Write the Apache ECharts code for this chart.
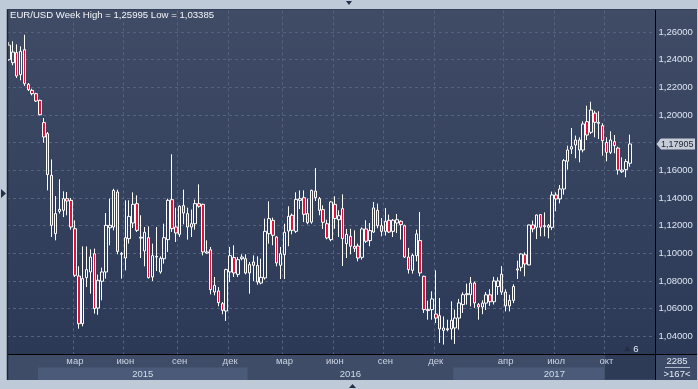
<!DOCTYPE html>
<html><head><meta charset="utf-8">
<script src="https://cdn.jsdelivr.net/npm/echarts@6/dist/echarts.min.js"></script>
<style>html,body{margin:0;padding:0;background:#bfcad8;overflow:hidden}#c{width:698px;height:389px}</style>
</head><body><div id="c"></div>
<script>
// ---- data ----
const startWeek = '2014-10-27';
const futureWeeks = 6;
const openVals = [
1.2400,1.2378,1.2451,1.2292,1.2472,1.2222,1.2178,1.2154,1.2106,1.1945,
1.1865,1.1564,1.1142,1.1303,1.1311,1.1395,1.1383,1.1178,1.0836,1.0491,
1.0824,1.0865,1.0997,1.0604,1.0798,1.0865,1.1185,1.1190,1.1443,1.0993,
1.0966,1.1106,1.1219,1.1359,1.1110,1.1017,1.1113,1.0829,1.0973,1.0865,
1.0961,1.1099,1.1388,1.1190,1.1137,1.1345,1.1287,1.1190,1.1214,1.1359,
1.1354,1.1002,1.1026,1.0720,1.0728,1.0636,1.0583,1.0865,1.0969,1.0848,
1.0961,1.0961,1.0858,1.0937,1.0913,1.0785,1.0822,1.1142,1.1238,1.1118,
1.0913,1.0990,1.1161,1.1275,1.1159,1.1383,1.1402,1.1287,1.1226,1.1450,
1.1395,1.1316,1.1214,1.1099,1.1354,1.1243,1.1323,1.1070,1.1123,1.1051,
1.1053,1.0971,1.1176,1.1092,1.1154,1.1311,1.1200,1.1159,1.1239,1.1159,
1.1219,1.1231,1.1200,1.0973,1.0877,1.0983,1.1092,1.0834,1.0593,1.0593,
1.0561,1.0549,1.0443,1.0448,1.0453,1.0460,1.0532,1.0629,1.0701,1.0701,
1.0785,1.0629,1.0612,1.0640,1.0700,1.0650,1.0760,1.0849,1.0720,1.0620,
1.0660,1.0879,1.0899,1.0990,1.0916,1.1205,1.1188,1.1280,1.1193,1.1188,
1.1188,1.1422,1.1393,1.1465,1.1665,1.1754,1.1783,1.1819,1.1747,1.1952,
1.1875,1.2014,1.1940,1.1923,1.1802,1.1730,1.1807,1.1761,1.1590,1.1605,
1.1651];
const closeVals = [
1.2505,1.2455,1.2282,1.2460,1.2226,1.2183,1.2154,1.2101,1.2002,1.1841,
1.1569,1.1202,1.1287,1.1318,1.1395,1.1378,1.1190,1.0841,1.0491,1.0817,
1.0882,1.0973,1.0600,1.0805,1.0865,1.1202,1.1202,1.1455,1.1014,1.0999,
1.1113,1.1267,1.1354,1.1166,1.1116,1.1152,1.0824,1.0983,1.0978,1.0964,
1.1113,1.1383,1.1178,1.1147,1.1340,1.1291,1.1190,1.1214,1.1359,1.1340,
1.1010,1.1010,1.0737,1.0768,1.0643,1.0588,1.0882,1.0983,1.0858,1.0954,
1.0973,1.0858,1.0918,1.0913,1.0793,1.0826,1.1159,1.1251,1.1130,1.0930,
1.0997,1.1152,1.1267,1.1166,1.1390,1.1395,1.1282,1.1222,1.1455,1.1402,
1.1311,1.1224,1.1111,1.1371,1.1251,1.1272,1.1106,1.1137,1.1051,1.1036,
1.0966,1.1176,1.1087,1.1164,1.1328,1.1200,1.1159,1.1231,1.1154,1.1239,
1.1243,1.1207,1.0973,1.0882,1.0985,1.1140,1.0858,1.0593,1.0586,1.0670,
1.0532,1.0453,1.0460,1.0455,1.0516,1.0532,1.0641,1.0701,1.0708,1.0785,
1.0641,1.0612,1.0640,1.0700,1.0650,1.0800,1.0800,1.0720,1.0620,1.0660,
1.0760,1.0887,1.0995,1.0923,1.1205,1.1176,1.1277,1.1188,1.1200,1.1200,
1.1422,1.1393,1.1465,1.1670,1.1747,1.1771,1.1819,1.1747,1.1935,1.1855,
1.2036,1.1947,1.1947,1.1814,1.1730,1.1819,1.1778,1.1602,1.1602,1.1663,
1.17905];
const lowVals = [
1.2390,1.2359,1.2267,1.2251,1.2210,1.2173,1.2142,1.2094,1.1998,1.1800,
1.1455,1.1118,1.1094,1.1287,1.1262,1.1275,1.1171,1.0829,1.0455,1.0472,
1.0756,1.0708,1.0564,1.0555,1.0660,1.0817,1.1058,1.1166,1.0993,1.0817,
1.0877,1.1070,1.1183,1.1154,1.0966,1.0906,1.0817,1.0800,1.0872,1.0853,
1.0925,1.1010,1.1154,1.1082,1.1118,1.1210,1.1099,1.1118,1.1171,1.1330,
1.0985,1.0997,1.0703,1.0696,1.0617,1.0559,1.0511,1.0793,1.0829,1.0829,
1.0949,1.0848,1.0708,1.0800,1.0773,1.0776,1.0810,1.1070,1.1058,1.0906,
1.0814,1.0814,1.1051,1.1137,1.1147,1.1320,1.1226,1.1210,1.1214,1.1378,
1.1275,1.1176,1.1101,1.1087,1.1178,1.1118,1.0908,1.0966,1.0993,1.1010,
1.0942,1.0954,1.1075,1.1051,1.1147,1.1181,1.1123,1.1128,1.1147,1.1118,
1.1147,1.1099,1.0966,1.0853,1.0853,1.0942,1.0834,1.0569,1.0520,1.0520,
1.0496,1.0352,1.0340,1.0436,1.0376,1.0345,1.0448,1.0569,1.0629,1.0617,
1.0605,1.0520,1.0560,1.0590,1.0620,1.0630,1.0700,1.0700,1.0580,1.0580,
1.0640,1.0814,1.0870,1.0834,1.0914,1.1152,1.1103,1.1123,1.1123,1.1108,
1.1169,1.1304,1.1361,1.1424,1.1605,1.1718,1.1687,1.1658,1.1730,1.1819,
1.1863,1.1839,1.1826,1.1706,1.1665,1.1718,1.1723,1.1569,1.1581,1.1549,
1.1626];
const highVals = [
1.2528,1.2533,1.2511,1.2496,1.2580,1.2231,1.2190,1.2161,1.2111,1.1978,
1.1877,1.1679,1.1414,1.1535,1.1448,1.1443,1.1400,1.1238,1.0906,1.1050,
1.1050,1.1029,1.1034,1.0846,1.0896,1.1291,1.1395,1.1467,1.1460,1.1010,
1.1383,1.1383,1.1441,1.1419,1.1275,1.1190,1.1195,1.1070,1.1190,1.0978,
1.1214,1.1395,1.1716,1.1330,1.1347,1.1460,1.1330,1.1316,1.1388,1.1499,
1.1359,1.1094,1.1046,1.0829,1.0756,1.0648,1.0889,1.1046,1.1058,1.0973,
1.0993,1.0993,1.0937,1.0985,1.0978,1.0961,1.1251,1.1376,1.1258,1.1123,
1.1046,1.1214,1.1340,1.1287,1.1441,1.1455,1.1455,1.1395,1.1460,1.1617,
1.1407,1.1347,1.1243,1.1378,1.1412,1.1311,1.1426,1.1176,1.1178,1.1166,
1.1070,1.1188,1.1239,1.1219,1.1371,1.1359,1.1255,1.1328,1.1280,1.1248,
1.1284,1.1239,1.1207,1.1039,1.0998,1.1171,1.1299,1.0838,1.0658,1.0725,
1.0877,1.0677,1.0544,1.0520,1.0653,1.0593,1.0670,1.0718,1.0781,1.0829,
1.0797,1.0641,1.0660,1.0720,1.0740,1.0830,1.0826,1.0907,1.0740,1.0700,
1.0776,1.0947,1.1000,1.1007,1.1207,1.1236,1.1280,1.1282,1.1296,1.1212,
1.1446,1.1441,1.1494,1.1682,1.1778,1.1906,1.1851,1.1839,1.1954,1.2067,
1.2096,1.2031,1.2027,1.1940,1.1839,1.1882,1.1855,1.1771,1.1694,1.1682,
1.1858];
const monthTicks = [
['2015-02-23','мар'],['2015-05-25','июн'],['2015-08-31','сен'],['2015-11-30','дек'],
['2016-03-07','мар'],['2016-06-06','июн'],['2016-09-05','сен'],['2016-12-05','дек'],
['2017-04-10','апр'],['2017-07-10','июл'],['2017-10-09','окт']];
const yearStarts = ['2014-12-22','2016-01-04','2017-01-09'];
const yearLabels = ['2015','2016','2017'];
const yearShaded = [true,false,true];
const selectionStart = '2017-10-09';
const lastPrice = 1.17905;
const titleText = 'EUR/USD Week High = 1,25995 Low = 1,03385';
const barsTotal = '2285';
const barsShown = '>167<';
const rightOffset = '6';

// ---- build ----
const weeks = [];
let t = Date.parse(startWeek + 'T00:00:00Z');
for (let i = 0; i < openVals.length + futureWeeks; i++) { weeks.push(new Date(t).toISOString().slice(0,10)); t += 7*864e5; }
const candleData = openVals.map((o,i)=>[o, closeVals[i], lowVals[i], highVals[i]]);
const monthMap = {}; monthTicks.forEach(m => monthMap[m[0]] = m[1]);
const FONT = '"Liberation Sans", Arial, sans-serif';
const FS = 9.5;
const GRID = '#56627d';

const chart = echarts.init(document.getElementById('c'));
chart.setOption({
  animation: false,
  backgroundColor: '#bfcad8',
  textStyle: {fontFamily: FONT},
  title: {text: titleText, left: 10, top: 10, padding: 0, textStyle: {color: '#f3f6fb', fontSize: 9.6, fontWeight: 'normal', fontFamily: FONT}},
  grid: {left: 7, right: 43, top: 4.34, bottom: 25.04},
  xAxis: [
    {type: 'category', data: weeks, boundaryGap: true, axisLine: {show: false}, axisTick: {show: false}, axisLabel: {show: false},
     splitLine: {show: true, interval: (i, v) => monthMap[v] !== undefined, lineStyle: {color: GRID, type: [3,3], width: 1}}},
    {type: 'category', data: weeks, boundaryGap: true, position: 'bottom', z: 20, axisLine: {show: false}, axisTick: {show: false}, splitLine: {show: false},
     axisLabel: {interval: (i, v) => monthMap[v] !== undefined, formatter: v => monthMap[v] || '', margin: -7.5, color: '#c9d3e2', fontSize: FS, fontFamily: FONT}}
  ],
  yAxis: {type: 'value', position: 'right', min: 1.02, max: 1.28, interval: 0.02,
    axisLine: {show: false}, axisTick: {show: false},
    axisLabel: {showMinLabel: false, showMaxLabel: false, margin: 3.5, color: '#dce5f2', fontSize: FS, fontFamily: FONT, formatter: v => v.toFixed(5).replace('.', ',')},
    splitLine: {show: true, showMinLine: false, showMaxLine: false, lineStyle: {color: GRID, type: [3,3]}}},
  series: [{type: 'candlestick', xAxisIndex: 0, data: candleData, barWidth: 3,
    itemStyle: {color: 'rgba(0,0,0,0)', color0: '#e4103c', borderColor: '#ffffff', borderColor0: '#ffffff', borderWidth: 1}}]
});

// ---- decorations positioned through the axes ----
const px = i => chart.convertToPixel({xAxisIndex: 0}, i);
const bw = px(1) - px(0);
const xL = 7, xR = 655.5, yT = 9, yB = 354.5, yEnd = 380, W = 697;
const g = [];
const bg = new echarts.graphic.LinearGradient(0,0,0,1,[{offset:0,color:'#404c66'},{offset:1,color:'#2b3957'}]);
g.push({type:'rect', z:-10, silent:true, shape:{x:xL, y:yT, width:W-xL, height:yB-yT}, style:{fill:bg}});
g.push({type:'rect', z:10, silent:true, shape:{x:xL, y:yB, width:W-xL, height:yEnd-yB}, style:{fill:'#3e4c68'}});
const yearIdx = yearStarts.map(d => weeks.indexOf(d));
yearIdx.forEach((si, k) => {
  const x0 = px(si) - bw/2;
  const x1 = k + 1 < yearIdx.length ? px(yearIdx[k+1]) - bw/2 : xR;
  if (yearShaded[k]) g.push({type:'rect', z:11, silent:true, shape:{x:x0, y:367.5, width:x1 - x0, height:yEnd-367.5}, style:{fill:'#4a5a78'}});
  g.push({type:'text', z:25, silent:true, style:{text:yearLabels[k], x:(x0 + x1)/2, y:374, align:'center', verticalAlign:'middle', fill:'#d3dce8', font:FS + 'px ' + FONT}});
});
const selX = px(weeks.indexOf(selectionStart)) - bw/2;
g.push({type:'rect', z:12, silent:true, shape:{x:selX, y:yB, width:xR-selX, height:yEnd-yB}, style:{fill:'#2e3b56', stroke:'#46536d', lineWidth:1}});
g.push({type:'rect', z:12, silent:true, shape:{x:xR, y:yB, width:W-xR, height:yEnd-yB}, style:{fill:'#3c4a67'}});
// frame / borders
g.push({type:'rect', z:30, silent:true, shape:{x:0, y:0, width:698, height:yT}, style:{fill:'#bfcad8'}});
g.push({type:'rect', z:30, silent:true, shape:{x:0, y:yEnd, width:698, height:389-yEnd}, style:{fill:'#bfcad8'}});
g.push({type:'rect', z:30, silent:true, shape:{x:0, y:0, width:xL, height:389}, style:{fill:'#bfcad8'}});
g.push({type:'line', z:31, silent:true, shape:{x1:xL+0.5, y1:yT, x2:xL+0.5, y2:yEnd}, style:{stroke:'#1c2435', lineWidth:1.5}});
g.push({type:'line', z:31, silent:true, shape:{x1:xL, y1:yT+0.5, x2:W, y2:yT+0.5}, style:{stroke:'#34405a', lineWidth:1}});
g.push({type:'line', z:15, silent:true, shape:{x1:xL, y1:yB, x2:W, y2:yB}, style:{stroke:'#000000', lineWidth:1}});
g.push({type:'line', z:15, silent:true, shape:{x1:xR, y1:yT, x2:xR, y2:yEnd}, style:{stroke:'#000000', lineWidth:1}});
// bar counters
g.push({type:'text', z:25, silent:true, style:{text:barsTotal, x:677, y:361, align:'center', verticalAlign:'middle', fill:'#e4ebf5', font:FS + 'px ' + FONT}});
g.push({type:'line', z:25, silent:true, shape:{x1:665, y1:367.5, x2:690, y2:367.5}, style:{stroke:'#aeb9ca', lineWidth:1}});
g.push({type:'text', z:25, silent:true, style:{text:barsShown, x:677, y:374, align:'center', verticalAlign:'middle', fill:'#e4ebf5', font:FS + 'px ' + FONT}});
g.push({type:'text', z:25, silent:true, style:{text:rightOffset, x:636, y:349, align:'center', verticalAlign:'middle', fill:'#e4ebf5', font:FS + 'px ' + FONT}});
g.push({type:'polygon', z:25, silent:true, shape:{points:[[624,351],[627.5,346],[631,351]]}, style:{fill:'#232e44'}});
// last price tag
const yP = chart.convertToPixel({yAxisIndex: 0}, lastPrice);
g.push({type:'polygon', z:25, silent:true, shape:{points:[[656.5,yP],[661,yP-5.5],[695,yP-5.5],[695,yP+5.5],[661,yP+5.5]]}, style:{fill:'#c6cdd8'}});
g.push({type:'text', z:26, silent:true, style:{text:lastPrice.toFixed(5).replace('.', ','), x:661, y:yP + 0.5, align:'left', verticalAlign:'middle', fill:'#1b2130', font:'9px ' + FONT}});
// frame arrows
g.push({type:'polygon', z:32, silent:true, shape:{points:[[1,189],[6,193.5],[1,198]]}, style:{fill:'#243048'}});
g.push({type:'polygon', z:32, silent:true, shape:{points:[[346,1],[352,1],[349,5]]}, style:{fill:'#243048'}});
g.push({type:'polygon', z:32, silent:true, shape:{points:[[349,388],[352.5,384],[356,388]]}, style:{fill:'#243048'}});
chart.setOption({graphic: {elements: g}});
</script></body></html>
